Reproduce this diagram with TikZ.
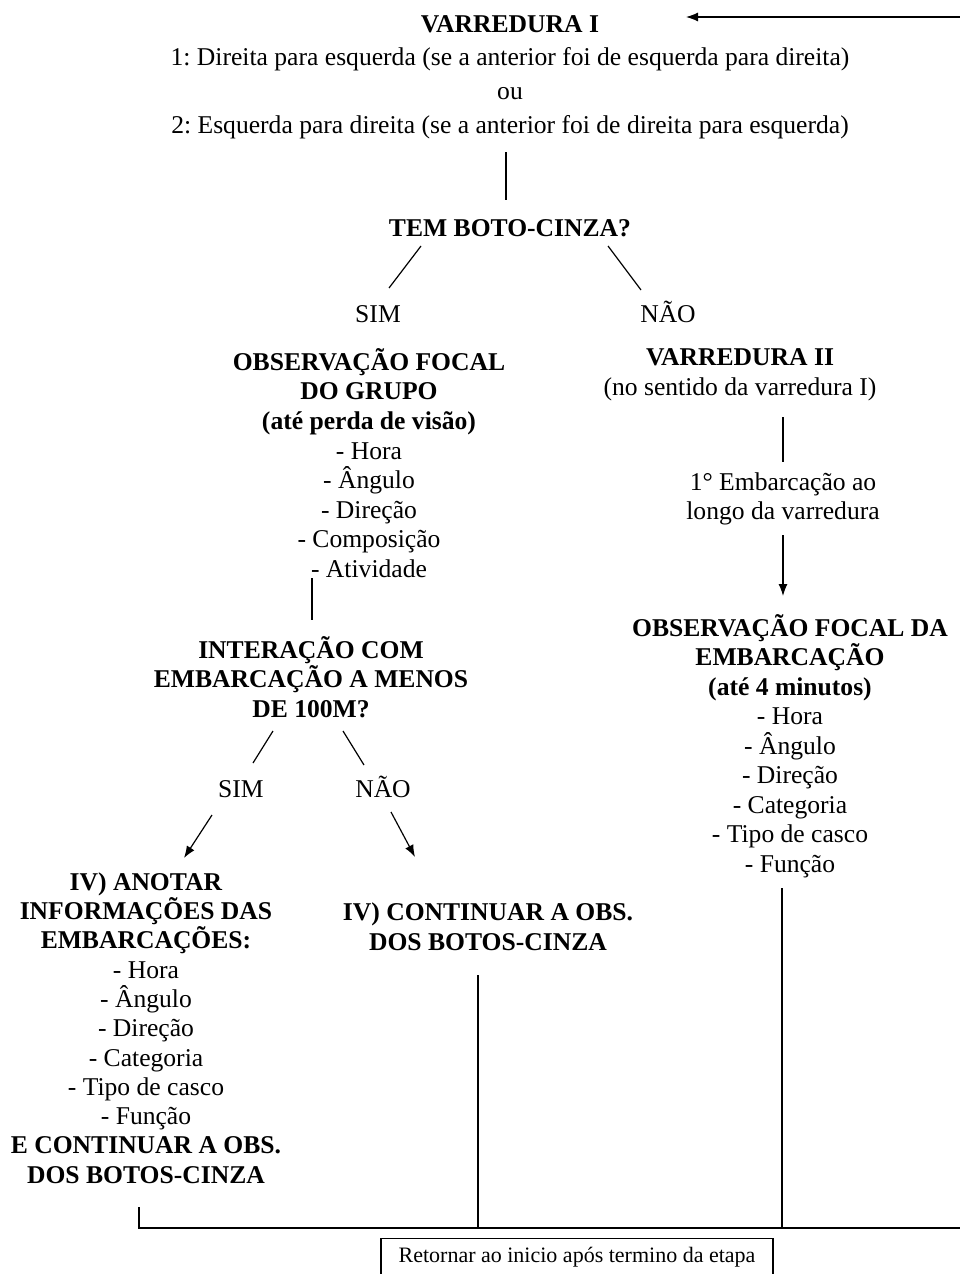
\documentclass[tikz,border=0pt]{standalone}
\usepackage{fontspec}
\setmainfont{Liberation Serif}
\usetikzlibrary{arrows.meta,positioning,calc}
\frenchspacing

\begin{document}
\begin{tikzpicture}[x=1pt,y=-1pt,
  txt/.style={align=center,inner sep=0pt,font=\fontsize{25.6}{29.6}\selectfont},
  hd/.style={txt,font=\fontsize{25.6}{29.6}\selectfont\bfseries},
  ln/.style={line width=1.2pt},
  arr/.style={ln,-{Latex[length=12pt,width=9pt]}}]
  \useasboundingbox (0,0) rectangle (960,1274);
  \node[hd](v1) at (510,24){VARREDURA I};
  \node[txt,font=\fontsize{25.6}{34}\selectfont](rot) at (510,93){1: Direita para esquerda (se a anterior foi de esquerda para direita)\\ou\\2: Esquerda para direita (se a anterior foi de direita para esquerda)};
  \node[hd](tem) at (510,228){TEM BOTO-CINZA?};
  \node[txt](sim1) at (378,314){SIM};
  \node[txt](nao1) at (668,312){NÃO};
  \node[txt](focal) at (369,463){\textbf{OBSERVAÇÃO FOCAL}\\\textbf{DO GRUPO}\\\textbf{(até perda de visão)}\\- Hora\\- Ângulo\\- Direção\\- Composição\\- Atividade};
  \node[hd](inter) at (311,677){INTERAÇÃO COM\\EMBARCAÇÃO A MENOS\\DE 100M?};
  \node[txt](sim2) at (241,789){SIM};
  \node[txt](nao2) at (383,787){NÃO};
  \node[txt,font=\fontsize{25.6}{29.3}\selectfont](anotar) at (146,1028){\textbf{IV) ANOTAR}\\\textbf{INFORMAÇÕES DAS}\\\textbf{EMBARCAÇÕES:}\\- Hora\\- Ângulo\\- Direção\\- Categoria\\- Tipo de casco\\- Função\\\textbf{E CONTINUAR A OBS.}\\\textbf{DOS BOTOS-CINZA}};
  \node[hd](cont) at (488,927){IV) CONTINUAR A OBS.\\DOS BOTOS-CINZA};
  \node[txt](v2) at (740,375){\textbf{VARREDURA II}\\(no sentido da varredura I)};
  \node[txt](emb1) at (783,499){1° Embarcação ao\\longo da varredura};
  \node[txt,font=\fontsize{25.6}{29.5}\selectfont](focal2) at (790,746){\textbf{OBSERVAÇÃO FOCAL DA}\\\textbf{EMBARCAÇÃO}\\\textbf{(até 4 minutos)}\\- Hora\\- Ângulo\\- Direção\\- Categoria\\- Tipo de casco\\- Função};
  \node[draw,ln,anchor=north,minimum width=392pt,inner ysep=0pt,text height=24pt,text depth=26pt,
    font=\fontsize{22}{26}\selectfont](retorno) at (577,1238){Retornar ao inicio após termino da etapa};
  \coordinate(topo) at (960,17);
  \coordinate(ret) at (960,1228);
  \coordinate(f1) at ($(anotar)+(-7,179)$);
  \coordinate(f2) at ($(cont)+(-10,48)$);
  \coordinate(f3) at ($(focal2)+(-8,142)$);
  \draw[arr](topo)--($(v1)+(176,-7)$);
  \draw[ln]($(rot)+(-4,59)$)--($(tem)+(-4,-28)$);
  \draw[ln]($(tem)+(-89,18)$)--($(sim1)+(11,-26)$);
  \draw[ln]($(tem)+(98,18)$)--($(nao1)+(-27,-22)$);
  \draw[ln]($(focal)+(-57,115)$)--($(inter)+(1,-57)$);
  \draw[ln]($(inter)+(-38,54)$)--($(sim2)+(12,-26)$);
  \draw[ln]($(inter)+(32,54)$)--($(nao2)+(-19,-22)$);
  \draw[arr]($(sim2)+(-29,26)$)--($(anotar)+(38,-170)$);
  \draw[arr]($(nao2)+(8,25)$)--($(cont)+(-73,-70)$);
  \draw[ln]($(emb1)+(0,-82)$)--($(emb1)+(0,-37)$);
  \draw[arr]($(emb1)+(0,36)$)--($(focal2)+(-7,-150)$);
  \draw[ln](f1)|-(ret);
  \draw[ln](f2)--(f2 |- ret);
  \draw[ln](f3)--(f3 |- ret);
\end{tikzpicture}
\end{document}
